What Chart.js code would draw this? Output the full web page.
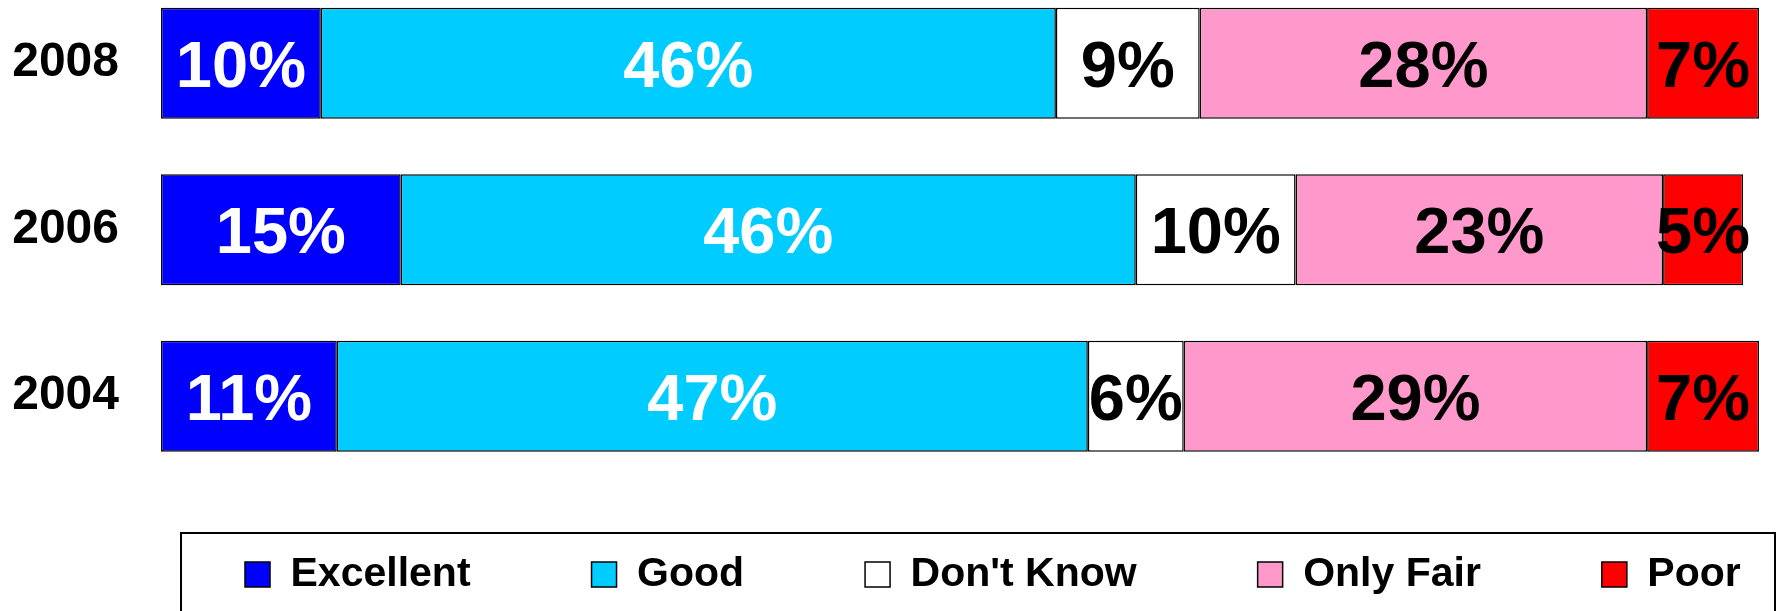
<!DOCTYPE html>
<html>
<head>
<meta charset="utf-8">
<title>Ratings 2004-2008</title>
<script src="https://cdn.jsdelivr.net/npm/chart.js@4/dist/chart.umd.min.js"></script>
<style>
    html, body { margin: 0; padding: 0; background: #fff; overflow: hidden; width: 1777px; height: 611px; }
    /* canvas sits a little above the page so the top bar hugs the edge */
    #wrap { position: absolute; left: 0; top: -20px; width: 1777px; height: 651px; }
</style>
</head>
<body>
<div id="wrap"><canvas id="ratingChart" width="1777" height="651"></canvas></div>
<script>
// 年份 + 各档占比 (%)
const years = ['2008', '2006', '2004'];
const excellent = [10, 15, 11];
const good = [46, 46, 47];
const dontKnow = [9, 10, 6];
const onlyFair = [28, 23, 29];
const poor = [7, 5, 7];

const seriesNames = ['Excellent', 'Good', "Don't Know", 'Only Fair', 'Poor'];
const seriesValues = [excellent, good, dontKnow, onlyFair, poor];
const seriesColors = ['#0000FF', '#00CCFF', '#FFFFFF', '#FF99CC', '#FF0000'];
const labelColors = ['#FFFFFF', '#FFFFFF', '#000000', '#000000', '#000000'];

const FONT = '"Liberation Sans", Arial, sans-serif';

// 每段中间写百分比
const valueLabels = {
    id: 'valueLabels',
    afterDatasetsDraw(chart) {
        const ctx = chart.ctx;
        const size = 65;
        ctx.save();
        ctx.font = `bold ${size}px ${FONT}`;
        ctx.textAlign = 'center';
        ctx.textBaseline = 'alphabetic';
        chart.data.datasets.forEach((ds, i) => {
            const meta = chart.getDatasetMeta(i);
            ctx.fillStyle = labelColors[i];
            meta.data.forEach((bar, j) => {
                const { x, y, base } = bar.getProps(['x', 'y', 'base'], true);
                ctx.fillText(ds.data[j] + '%', (x + base) / 2, y + size * 0.358);
            });
        });
        ctx.restore();
    }
};

// 图例放到底部框里
const legendFrame = {
    id: 'legendFrame',
    afterLayout(chart) {
        const lg = chart.legend;
        if (!lg) return;
        lg.left = 124;
        lg.right = 2000;
        lg.top = 453;
        lg.bottom = 651;
        lg.width = lg.right - lg.left;
        lg.height = lg.bottom - lg.top;
    },
    afterDraw(chart) {
        const ctx = chart.ctx;
        ctx.save();
        ctx.strokeStyle = '#000';
        ctx.lineWidth = 2;
        ctx.strokeRect(181, 553, 1594, 200);
        ctx.restore();
    }
};

const ctx = document.getElementById('ratingChart');

new Chart(ctx, {
    type: 'bar',
    data: {
        labels: years,
        datasets: seriesNames.map((name, i) => ({
            label: name,
            data: seriesValues[i],
            backgroundColor: seriesColors[i],
            borderColor: '#000',
            borderWidth: 1.5,
            borderSkipped: false,
            categoryPercentage: 1,
            barPercentage: 0.667
        }))
    },
    options: {
        indexAxis: 'y',
        responsive: false,
        animation: false,
        layout: { padding: { left: 12, right: 18, top: 0, bottom: 0 } },
        scales: {
            x: {
                stacked: true,
                min: 0,
                max: 100,
                display: false
            },
            y: {
                stacked: true,
                grid: { display: false, drawTicks: false },
                border: { display: false },
                ticks: {
                    color: '#000',
                    padding: 42,
                    font: { family: FONT, size: 48, weight: 'bold' }
                },
                // 固定轴宽, 去掉标签带来的上下留白
                afterFit(scale) {
                    scale.width = 149;
                    scale.paddingTop = 0;
                    scale.paddingBottom = 0;
                }
            }
        },
        plugins: {
            tooltip: { enabled: false },
            legend: {
                position: 'bottom',
                align: 'start',
                maxHeight: 151.5,
                labels: {
                    color: '#000',
                    boxWidth: 25,
                    boxHeight: 25,
                    padding: 121,
                    font: { family: FONT, size: 41, weight: 'bold' }
                }
            }
        }
    },
    plugins: [valueLabels, legendFrame]
});
</script>
</body>
</html>
